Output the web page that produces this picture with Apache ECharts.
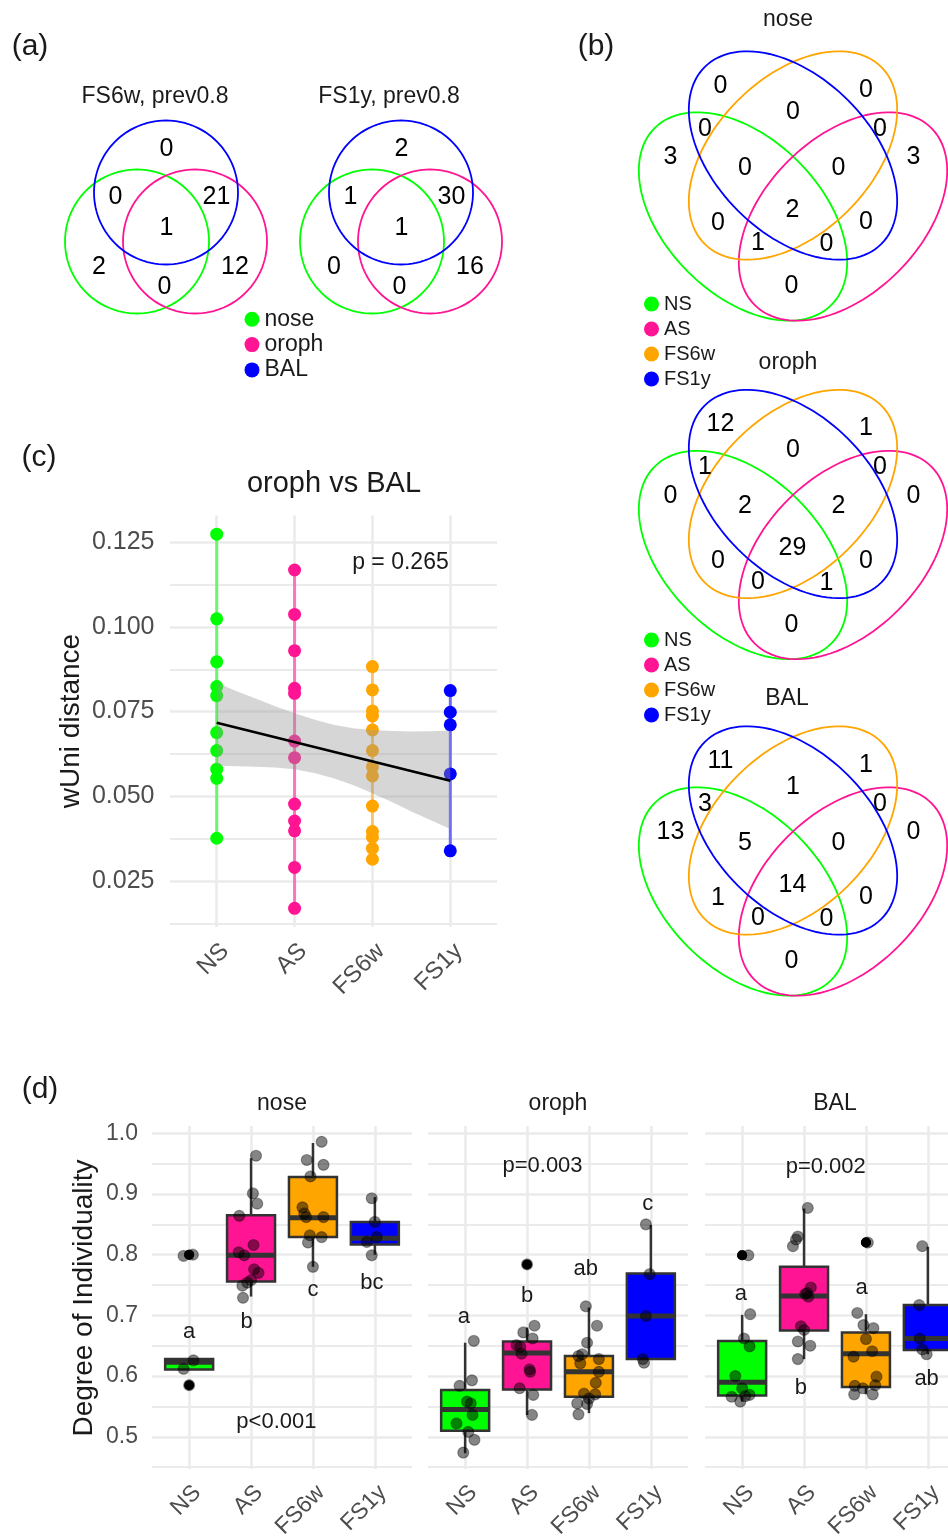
<!DOCTYPE html>
<html>
<head>
<meta charset="utf-8">
<script src="https://cdn.jsdelivr.net/npm/echarts@6/dist/echarts.min.js"></script>
<style>
html, body { margin: 0; padding: 0; background: #fff; }
#chart { width: 948px; height: 1540px; }
</style>
</head>
<body>
<div id="chart"></div>
<script>
// ---------- data ----------
const GROUPS = ['NS', 'AS', 'FS6w', 'FS1y']
const SITES = ['nose', 'oroph', 'BAL']

// (a) three-set venn, region order:
// BAL, nose&BAL, oroph&BAL, all, nose, nose&oroph, oroph
const venn3Titles = ['FS6w, prev0.8', 'FS1y, prev0.8']
const venn3FS6w = [0, 0, 21, 1, 2, 0, 12]
const venn3FS1y = [2, 1, 30, 1, 0, 0, 16]

// (b) four-set venn, region order:
// FS1y, FS6w&FS1y, FS6w, NS&FS1y, AS&FS6w, NS, NS&FS6w&FS1y, AS&FS6w&FS1y,
// AS, all, NS&FS6w, AS&FS1y, NS&AS&FS6w, NS&AS&FS1y, NS&AS
const venn4Nose = [0, 0, 0, 0, 0, 3, 0, 0, 3, 2, 0, 0, 1, 0, 0]
const venn4Oroph = [12, 0, 1, 1, 0, 0, 2, 2, 0, 29, 0, 0, 0, 1, 0]
const venn4BAL = [11, 1, 1, 3, 0, 13, 5, 0, 0, 14, 1, 0, 0, 0, 0]

// (c) oroph vs BAL, wUni distance
const cNS = [0.1274, 0.1024, 0.0897, 0.0824, 0.0797, 0.0688, 0.0635, 0.0580, 0.0553, 0.0376]
const cAS = [0.1168, 0.1037, 0.0930, 0.0819, 0.0804, 0.0663, 0.0614, 0.0477, 0.0427, 0.0398, 0.0290, 0.0169]
const cFS6w = [0.0883, 0.0814, 0.0752, 0.0737, 0.0696, 0.0635, 0.0587, 0.0560, 0.0471, 0.0396, 0.0379, 0.0346, 0.0314]
const cFS1y = [0.0812, 0.0748, 0.0711, 0.0566, 0.0339]
const bandX = [1, 1.25, 1.5, 1.75, 2, 2.25, 2.5, 2.75, 3, 3.25, 3.5, 3.75, 4]
const bandUpper = [0.0835, 0.0811, 0.0789, 0.0766, 0.0745, 0.0727, 0.0711, 0.0701, 0.0696, 0.0693, 0.0691, 0.0692, 0.0694]
const bandLower = [0.0590, 0.0589, 0.0587, 0.0585, 0.0580, 0.0569, 0.0553, 0.0533, 0.0509, 0.0483, 0.0455, 0.0429, 0.0403]
const fitX = [1, 4]
const fitY = [0.0717, 0.0546]
const cPText = 'p = 0.265'
const cPPos = [3.36, 0.1189]

// (d) degree of individuality: box = [x, lower whisker, Q1, median, Q3, upper whisker]
const noseBox = [
  [1, 0.611, 0.611, 0.623, 0.628, 0.628],
  [2, 0.731, 0.756, 0.799, 0.865, 0.959],
  [3, 0.780, 0.829, 0.861, 0.928, 0.984],
  [4, 0.800, 0.817, 0.827, 0.854, 0.895]
]
const orophBox = [
  [1, 0.473, 0.510, 0.545, 0.577, 0.655],
  [2, 0.536, 0.578, 0.638, 0.657, 0.680],
  [3, 0.539, 0.566, 0.607, 0.633, 0.713],
  [4, 0.628, 0.628, 0.699, 0.769, 0.849]
]
const balBox = [
  [1, 0.558, 0.568, 0.590, 0.658, 0.701],
  [2, 0.628, 0.675, 0.732, 0.780, 0.876],
  [3, 0.570, 0.582, 0.637, 0.672, 0.702],
  [4, 0.636, 0.643, 0.662, 0.717, 0.813]
]
const noseOutliers = [[1, 0.800], [1, 0.800], [1, 0.585]]
const orophOutliers = [[2, 0.784]]
const balOutliers = [[1, 0.799], [1, 0.799], [3, 0.820], [3, 0.820]]

const noseJitter = [
  [0.91, 0.798], [1.06, 0.800], [1.07, 0.626], [0.91, 0.612], [1.0, 0.585],
  [2.08, 0.963], [2.03, 0.901], [2.10, 0.884], [1.81, 0.864], [1.80, 0.804], [1.89, 0.799], [2.04, 0.816],
  [2.05, 0.776], [2.12, 0.770], [2.0, 0.758], [1.94, 0.754], [1.86, 0.749], [1.87, 0.729],
  [3.14, 0.986], [2.90, 0.956], [3.17, 0.948], [2.96, 0.929], [2.83, 0.878], [2.86, 0.868], [2.89, 0.862],
  [3.17, 0.862], [2.95, 0.832], [3.14, 0.829], [2.92, 0.820], [3.0, 0.780],
  [3.95, 0.893], [4.0, 0.854], [4.03, 0.829], [3.87, 0.821], [3.95, 0.799]
]
const orophJitter = [
  [1.14, 0.658], [1.11, 0.593], [0.91, 0.584], [1.03, 0.558], [1.09, 0.555], [1.12, 0.536], [0.86, 0.522],
  [1.05, 0.508], [1.15, 0.495], [0.97, 0.474],
  [2.12, 0.683], [1.94, 0.672], [2.09, 0.662], [1.83, 0.651], [1.89, 0.648], [1.91, 0.637], [2.04, 0.611],
  [2.05, 0.607], [1.88, 0.580], [2.10, 0.569], [2.08, 0.536], [2.0, 0.784],
  [2.95, 0.715], [3.13, 0.683], [2.97, 0.655], [2.89, 0.636], [2.83, 0.633], [3.16, 0.628], [2.86, 0.621],
  [3.16, 0.607], [3.11, 0.589], [2.92, 0.571], [3.10, 0.570], [3.0, 0.563], [2.81, 0.555], [2.97, 0.554], [2.83, 0.537],
  [3.92, 0.850], [3.98, 0.768], [3.92, 0.699], [3.87, 0.628], [3.89, 0.622]
]
const balJitter = [
  [1.10, 0.799], [1.13, 0.702], [1.03, 0.662], [1.12, 0.649], [0.89, 0.600], [1.0, 0.580], [0.83, 0.566],
  [0.97, 0.558], [1.12, 0.569], [1.05, 0.567],
  [2.06, 0.877], [1.90, 0.830], [1.82, 0.814], [1.87, 0.825], [2.11, 0.746], [2.05, 0.737], [2.07, 0.731],
  [2.02, 0.735], [1.95, 0.682], [2.0, 0.676], [1.90, 0.657], [2.10, 0.650], [1.90, 0.628],
  [2.86, 0.704], [2.96, 0.684], [3.12, 0.679], [3.0, 0.661], [3.10, 0.641], [2.80, 0.632], [3.17, 0.599],
  [2.82, 0.584], [3.15, 0.585], [2.95, 0.580], [2.81, 0.570], [3.11, 0.570], [3.03, 0.820],
  [3.91, 0.814], [3.86, 0.717], [3.87, 0.662], [3.91, 0.644], [3.98, 0.636]
]
const noseLetters = ['a', 'b', 'c', 'bc']
const noseLetterPos = [[1, 0.672], [1.93, 0.689], [3, 0.742], [3.95, 0.753]]
const orophLetters = ['a', 'b', 'ab', 'c']
const orophLetterPos = [[0.98, 0.698], [2, 0.732], [2.95, 0.776], [3.95, 0.883]]
const balLetters = ['a', 'b', 'a', 'ab']
const balLetterPos = [[0.98, 0.736], [1.95, 0.581], [2.93, 0.746], [3.98, 0.596]]
const dPText = ['p<0.001', 'p=0.003', 'p=0.002']
const dPPos = [[2.41, 0.524], [2.25, 0.947], [2.35, 0.945]]

// ---------- layout / style ----------
const COLORS = {
  NS: '#00ff00', AS: '#ff1493', FS6w: '#ffa500', FS1y: '#0000ff',
  nose: '#00ff00', oroph: '#ff1493', BAL: '#0000ff'
}
const FONT = "'Liberation Sans', Arial, Helvetica, sans-serif"
const INK = '#1a1a1a'
const TICK_INK = '#4d4d4d'
const GRID_LINE = '#ebebeb'

// venn geometry in page pixels (canvas grid is 1:1 with the page)
const V3_CENTERS = [[166, 192.5], [401, 192.5]]
const V3_R = 72
const V3_CIRCLES = { BAL: [0, 0], nose: [-29, 49], oroph: [29, 49] }
const V3_LABEL_POS = [[0.5, -43], [-50.5, 5], [50.5, 5], [0.5, 35.5], [-67, 75], [-1.5, 94.5], [69, 74.5]]

const V4_CENTERS = [[793, 155.5], [793, 494], [793, 830.5]]
const V4_AXES = [125, 78]
const V4_ELLIPSES = { NS: [-50, 61, 1], AS: [50, 61, -1], FS6w: [0, 0, -1], FS1y: [0, 0, 1] }
const V4_LABEL_POS = [
  [-72.5, -69.5], [0, -43.5], [73, -65.5], [-88, -26.5], [87, -26.5], [-122.5, 2], [-48, 12.5], [45.5, 12.5],
  [120.5, 2], [-0.5, 54.5], [-75, 67.5], [73, 67], [-35, 88], [33.5, 89], [-1.5, 131]
]

const C_GRID = { left: 170, top: 515.5, width: 327, height: 411.5 }
const D_GRIDS = [
  { left: 152, top: 1126, width: 260, height: 343 },
  { left: 428, top: 1126, width: 260, height: 343 },
  { left: 705, top: 1126, width: 260, height: 343 }
]
const C_Y = [0.0114, 0.1329]
const D_Y = [0.447, 1.012]

// ---------- helpers ----------
function outline(api, cx, cy, a, b, rot, color) {
  const pts = []
  for (let k = 0; k < 120; k++) {
    const t = (k / 120) * Math.PI * 2
    const ex = a * Math.cos(t)
    const ey = b * Math.sin(t)
    pts.push(api.coord([cx + ex * Math.cos(rot) - ey * Math.sin(rot), cy + ex * Math.sin(rot) + ey * Math.cos(rot)]))
  }
  return { type: 'polygon', shape: { points: pts }, style: { fill: 'none', stroke: color, lineWidth: 1.8 } }
}

function textSeries(name, gridIdx, yIdx, positions, labels, fontSize) {
  return {
    name, type: 'custom', xAxisIndex: gridIdx, yAxisIndex: yIdx, silent: true, clip: false, z: 6,
    data: positions,
    renderItem: (params, api) => {
      const p = api.coord([api.value(0), api.value(1)])
      return {
        type: 'text', x: p[0], y: p[1],
        style: { text: labels[params.dataIndex], fill: INK, fontSize, fontFamily: FONT, align: 'center', verticalAlign: 'middle' }
      }
    }
  }
}

function catXAxis(gridIndex, fontSize) {
  return {
    type: 'value', gridIndex, min: 0.4, max: 4.6,
    axisLine: { show: false },
    axisTick: { show: false, customValues: [1, 2, 3, 4] },
    splitLine: { show: true, customValues: [1, 2, 3, 4], lineStyle: { color: GRID_LINE, width: 2.6 } },
    axisLabel: {
      customValues: [1, 2, 3, 4], formatter: (v) => GROUPS[Math.round(v) - 1],
      rotate: 45, align: 'right', verticalAlign: 'top', margin: 12,
      fontSize, color: TICK_INK, fontFamily: FONT
    }
  }
}

function valueYAxis(gridIndex, range, ticks, digits, showLabel, fontSize, margin) {
  return {
    type: 'value', gridIndex, min: range[0], max: range[1],
    axisLine: { show: false },
    axisTick: { show: false, customValues: ticks },
    splitLine: { show: true, customValues: ticks, lineStyle: { color: GRID_LINE, width: 2.6 } },
    axisLabel: {
      show: showLabel, customValues: ticks, formatter: (v) => v.toFixed(digits),
      margin, fontSize, color: TICK_INK, fontFamily: FONT
    }
  }
}

function minorYAxis(gridIndex, range, ticks) {
  return {
    type: 'value', gridIndex, min: range[0], max: range[1], position: 'left',
    axisLine: { show: false },
    axisTick: { show: false, customValues: ticks },
    splitLine: { show: true, customValues: ticks, lineStyle: { color: GRID_LINE, width: 1.8 } },
    axisLabel: { show: false }
  }
}

// ---------- option ----------
const grid = [{ left: 0, top: 0, width: 948, height: 1540 }, C_GRID].concat(D_GRIDS)
  .map((g) => Object.assign({ containLabel: false, outerBoundsMode: 'none' }, g))

const xAxis = [
  { type: 'value', gridIndex: 0, min: 0, max: 948, show: false },
  catXAxis(1, 24),
  catXAxis(2, 23), catXAxis(3, 23), catXAxis(4, 23)
]

const cMajor = [0.025, 0.05, 0.075, 0.1, 0.125]
const cMinor = [0.0125, 0.0375, 0.0625, 0.0875, 0.1125]
const dMajor = [0.5, 0.6, 0.7, 0.8, 0.9, 1.0]
const dMinor = [0.45, 0.55, 0.65, 0.75, 0.85, 0.95]

const yAxis = [
  { type: 'value', gridIndex: 0, min: 0, max: 1540, inverse: true, show: false },
  valueYAxis(1, C_Y, cMajor, 3, true, 25, 15.5),
  minorYAxis(1, C_Y, cMinor)
]
D_GRIDS.forEach((g, f) => {
  yAxis.push(valueYAxis(2 + f, D_Y, dMajor, 1, f === 0, 23, 14))
  yAxis.push(minorYAxis(2 + f, D_Y, dMinor))
})

const series = []

// (a) circles
SITES.forEach((site) => {
  series.push({
    name: site, type: 'custom', xAxisIndex: 0, yAxisIndex: 0, silent: true, clip: false,
    itemStyle: { color: COLORS[site] },
    data: V3_CENTERS,
    renderItem: (params, api) => {
      const off = V3_CIRCLES[site]
      return outline(api, api.value(0) + off[0], api.value(1) + off[1], V3_R, V3_R, 0, COLORS[site])
    }
  })
})
const venn3Counts = [venn3FS6w, venn3FS1y]
series.push({
  name: 'venn3 counts', type: 'custom', xAxisIndex: 0, yAxisIndex: 0, silent: true, clip: false,
  data: venn3Counts.flatMap((counts, d) => counts.map((n, r) => [d, r, n])),
  renderItem: (params, api) => {
    const c = V3_CENTERS[api.value(0)]
    const o = V3_LABEL_POS[api.value(1)]
    const p = api.coord([c[0] + o[0], c[1] + o[1]])
    return {
      type: 'text', x: p[0], y: p[1],
      style: { text: String(api.value(2)), fill: '#000', fontSize: 25, fontFamily: FONT, align: 'center', verticalAlign: 'middle' }
    }
  }
})

// (b) ellipses
GROUPS.forEach((g) => {
  series.push({
    name: g, type: 'custom', xAxisIndex: 0, yAxisIndex: 0, silent: true, clip: false,
    itemStyle: { color: COLORS[g] },
    data: V4_CENTERS,
    renderItem: (params, api) => {
      const e = V4_ELLIPSES[g]
      return outline(api, api.value(0) + e[0], api.value(1) + e[1], V4_AXES[0], V4_AXES[1], (e[2] * Math.PI) / 4, COLORS[g])
    }
  })
})
const venn4Counts = [venn4Nose, venn4Oroph, venn4BAL]
series.push({
  name: 'venn4 counts', type: 'custom', xAxisIndex: 0, yAxisIndex: 0, silent: true, clip: false,
  data: venn4Counts.flatMap((counts, d) => counts.map((n, r) => [d, r, n])),
  renderItem: (params, api) => {
    const c = V4_CENTERS[api.value(0)]
    const o = V4_LABEL_POS[api.value(1)]
    const p = api.coord([c[0] + o[0], c[1] + o[1]])
    return {
      type: 'text', x: p[0], y: p[1],
      style: { text: String(api.value(2)), fill: '#000', fontSize: 25, fontFamily: FONT, align: 'center', verticalAlign: 'middle' }
    }
  }
})

// (c)
const cData = [cNS, cAS, cFS6w, cFS1y]
cData.forEach((vals, i) => {
  const color = COLORS[GROUPS[i]]
  series.push({
    name: 'c range ' + GROUPS[i], type: 'line', xAxisIndex: 1, yAxisIndex: 1, silent: true, z: 2,
    data: [[i + 1, Math.min(...vals)], [i + 1, Math.max(...vals)]],
    symbol: 'none', lineStyle: { color, width: 3, opacity: 0.55 }
  })
  series.push({
    name: 'c ' + GROUPS[i], type: 'scatter', xAxisIndex: 1, yAxisIndex: 1, silent: true, z: 3,
    data: vals.map((v) => [i + 1, v]),
    symbolSize: 13, itemStyle: { color, opacity: 1 }
  })
})
// confidence band: one polygon through the upper edge then back along the lower edge
series.push({
  name: 'ci', type: 'custom', xAxisIndex: 1, yAxisIndex: 1, silent: true, z: 4,
  encode: { x: 0, y: [1, 2] },
  data: bandX.map((x, i) => [x, bandLower[i], bandUpper[i]]),
  renderItem: (params, api) => {
    if (params.dataIndex !== 0) return null
    const top = bandX.map((x, i) => api.coord([x, bandUpper[i]]))
    const bottom = bandX.map((x, i) => api.coord([x, bandLower[i]])).reverse()
    return {
      type: 'polygon', shape: { points: top.concat(bottom) },
      style: { fill: 'rgba(153,153,153,0.4)', stroke: 'none' }
    }
  }
})
series.push({
  name: 'fit', type: 'line', xAxisIndex: 1, yAxisIndex: 1, silent: true, z: 5,
  data: fitX.map((x, i) => [x, fitY[i]]), symbol: 'none', lineStyle: { color: '#000', width: 2.6 }
})
series.push(textSeries('c p', 1, 1, [cPPos], [cPText], 23))

// (d)
const dBoxes = [noseBox, orophBox, balBox]
const dOutliers = [noseOutliers, orophOutliers, balOutliers]
const dJitter = [noseJitter, orophJitter, balJitter]
const dLetters = [noseLetters, orophLetters, balLetters]
const dLetterPos = [noseLetterPos, orophLetterPos, balLetterPos]

dBoxes.forEach((boxes, f) => {
  const xi = 2 + f
  const yi = 3 + 2 * f
  series.push({
    name: 'box ' + SITES[f], type: 'custom', xAxisIndex: xi, yAxisIndex: yi, silent: true, z: 2,
    encode: { x: 0, y: [1, 2, 3, 4, 5] },
    data: boxes,
    renderItem: (params, api) => {
      const x = api.value(0)
      const lo = api.coord([x, api.value(1)])
      const q1 = api.coord([x, api.value(2)])
      const md = api.coord([x, api.value(3)])
      const q3 = api.coord([x, api.value(4)])
      const hi = api.coord([x, api.value(5)])
      const w = api.size([0.775, 0])[0]
      const edge = { stroke: '#333333', lineWidth: 2.5 }
      return {
        type: 'group',
        children: [
          { type: 'line', shape: { x1: lo[0], y1: lo[1], x2: q1[0], y2: q1[1] }, style: edge },
          { type: 'line', shape: { x1: q3[0], y1: q3[1], x2: hi[0], y2: hi[1] }, style: edge },
          {
            type: 'rect', shape: { x: q3[0] - w / 2, y: q3[1], width: w, height: q1[1] - q3[1] },
            style: { fill: COLORS[GROUPS[params.dataIndex]], stroke: '#333333', lineWidth: 2.5 }
          },
          { type: 'line', shape: { x1: md[0] - w / 2, y1: md[1], x2: md[0] + w / 2, y2: md[1] }, style: { stroke: '#333333', lineWidth: 5 } }
        ]
      }
    }
  })
  series.push({
    name: 'outliers ' + SITES[f], type: 'scatter', xAxisIndex: xi, yAxisIndex: yi, silent: true, z: 3,
    data: dOutliers[f], symbolSize: 10, itemStyle: { color: '#000', opacity: 1 }
  })
  series.push({
    name: 'points ' + SITES[f], type: 'scatter', xAxisIndex: xi, yAxisIndex: yi, silent: true, z: 4,
    data: dJitter[f], symbolSize: 11,
    itemStyle: { color: 'rgba(0,0,0,0.48)', borderColor: 'rgba(0,0,0,0.35)', borderWidth: 1.2, opacity: 1 }
  })
  series.push(textSeries('letters ' + SITES[f], xi, yi, dLetterPos[f], dLetters[f], 22))
  series.push(textSeries('p ' + SITES[f], xi, yi, [dPPos[f]], [dPText[f]], 22))
})

// static text: panel tags, titles, axis names
function label(text, x, y, fontSize, rotation) {
  return {
    type: 'text', x, y, rotation: rotation || 0, silent: true,
    style: { text, fill: INK, fontSize, fontFamily: FONT, align: 'center', verticalAlign: 'middle' }
  }
}
const graphic = [
  label('(a)', 30, 47, 30), label('(b)', 596, 47, 30), label('(c)', 39, 458, 30), label('(d)', 40, 1090, 30),
  label(venn3Titles[0], 155, 97, 23), label(venn3Titles[1], 389, 97, 23),
  label(SITES[0], 788, 20, 23), label(SITES[1], 788, 363, 23), label(SITES[2], 787, 699, 23),
  label('oroph vs BAL', 334, 484, 29),
  label('wUni distance', 71.5, 721, 28, Math.PI / 2),
  label('Degree of Individuality', 84, 1298, 28, Math.PI / 2),
  label(SITES[0], 282, 1104, 23), label(SITES[1], 558, 1104, 23), label(SITES[2], 835, 1104, 23)
]

function legendAt(names, left, top, fontSize, gap) {
  return {
    data: names.map((n) => ({ name: n, itemStyle: { color: COLORS[n] } })),
    left, top, orient: 'vertical', icon: 'circle', itemWidth: 15, itemHeight: 15,
    itemGap: gap, padding: 0, selectedMode: false,
    textStyle: { fontSize, lineHeight: fontSize, color: INK, fontFamily: FONT }
  }
}

const option = {
  animation: false,
  backgroundColor: '#ffffff',
  textStyle: { fontFamily: FONT },
  grid, xAxis, yAxis, series, graphic,
  legend: [
    legendAt(SITES, 244.5, 307.8, 23, 2.3),
    legendAt(GROUPS, 644, 294, 20, 5),
    legendAt(GROUPS, 644, 630, 20, 5)
  ]
}

const chart = echarts.init(document.getElementById('chart'), null, { renderer: 'canvas' })
chart.setOption(option)
</script>
</body>
</html>
